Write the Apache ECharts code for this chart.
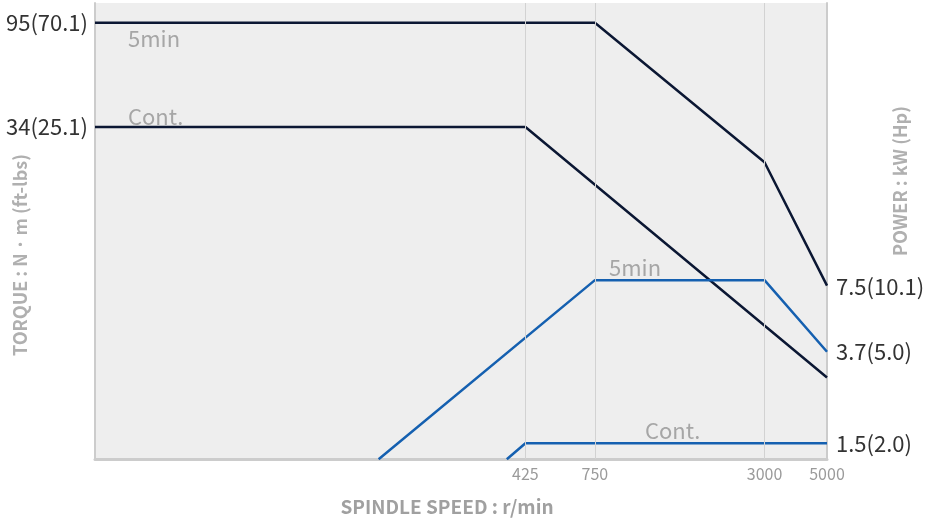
<!DOCTYPE html>
<html>
<head>
<meta charset="utf-8">
<script src="https://cdn.jsdelivr.net/npm/echarts@6/dist/echarts.min.js"></script>
<style>
  html, body { margin: 0; padding: 0; background: #ffffff; }
  #chart { width: 937px; height: 518px; }
</style>
</head>
<body>
<div id="chart"></div>
<script>
// spindle speed (r/min) / torque (N·m) / power (kW)
const speedTicks = [425, 750, 3000, 5000];
const speedGrid = [425, 750, 3000];

const torque5min = [[12.6, 95], [750, 95], [3000, 24], [5000, 7.1]];
const torqueCont = [[12.6, 34], [425, 34], [5000, 2.87]];
const power5min = [[128, 1.28], [750, 7.5], [3000, 7.5], [5000, 3.7]];
const powerCont = [[365, 1.28], [425, 1.5], [5000, 1.5]];

const leftTickValues = [95, 34];
const leftTickLabels = ["95(70.1)", "34(25.1)"];
const rightTickValues = [7.05, 3.7, 1.5];
const rightTickLabels = ["7.5(10.1)", "3.7(5.0)", "1.5(2.0)"];

const xMin = 12.6, xMax = 5000;
const yMin = 1.284, yMax = 115.5;

const navy = "#0b1733";
const blue = "#1560b0";
const grey = "#a6a6a6";
const font = "'Noto Sans CJK SC'";

const chart = echarts.init(document.getElementById("chart"));

function tickFormatter(values, labels) {
  return function (v) {
    for (let i = 0; i < values.length; i++) {
      if (Math.abs(v - values[i]) < 1e-6 * values[i]) return labels[i];
    }
    return "";
  };
}

const option = {
  animation: false,
  grid: {
    left: 95, right: 110, top: 3, bottom: 59,
    show: true, backgroundColor: "#eeeeee", borderWidth: 0
  },
  xAxis: {
    type: "log", logBase: 10, min: xMin, max: xMax,
    axisLine: { show: true, lineStyle: { color: "#cccccc", width: 3 } },
    axisTick: { show: false },
    splitLine: { show: false },
    axisLabel: {
      customValues: speedTicks,
      color: "#9a9a9a", fontSize: 16, fontFamily: font, margin: 7,
      formatter: (v) => String(Math.round(v))
    }
  },
  yAxis: [
    {
      type: "log", logBase: 10, min: yMin, max: yMax, position: "left",
      axisLine: { show: true, lineStyle: { color: "#cccccc", width: 2 } },
      axisTick: { show: false },
      splitLine: { show: false },
      axisLabel: {
        customValues: leftTickValues,
        color: "#333333", fontSize: 22, fontFamily: font, margin: 7,
        formatter: tickFormatter(leftTickValues, leftTickLabels)
      }
    },
    {
      type: "log", logBase: 10, min: yMin, max: yMax, position: "right",
      axisLine: { show: true, lineStyle: { color: "#cccccc", width: 2 } },
      axisTick: { show: false },
      splitLine: { show: false },
      axisLabel: {
        customValues: rightTickValues,
        color: "#333333", fontSize: 22, fontFamily: font, margin: 9,
        formatter: tickFormatter(rightTickValues, rightTickLabels)
      }
    }
  ],
  graphic: [
    { type: "text", left: 128, top: 28, style: { text: "5min", fill: grey, font: "22px " + font } },
    { type: "text", left: 128, top: 106, style: { text: "Cont.", fill: grey, font: "22px " + font } },
    { type: "text", left: 609, top: 257, style: { text: "5min", fill: grey, font: "22px " + font } },
    { type: "text", left: 645, top: 420, style: { text: "Cont.", fill: grey, font: "22px " + font } },
    {
      type: "text", x: 20, y: 255, rotation: Math.PI / 2,
      style: { text: "TORQUE : N\u2009\u00b7\u2009m (ft-lbs)", fill: "#b0b0b0", font: "bold 18px 'Noto Sans CJK KR', " + font, align: "center", verticalAlign: "middle" }
    },
    {
      type: "text", x: 900, y: 181, rotation: Math.PI / 2,
      style: { text: "POWER : kW (Hp)", fill: "#b0b0b0", font: "bold 18px " + font, align: "center", verticalAlign: "middle" }
    },
    {
      type: "text", x: 447, y: 507,
      style: { text: "SPINDLE SPEED : r/min", fill: "#a0a0a0", font: "bold 19px " + font, align: "center", verticalAlign: "middle" }
    }
  ],
  series: [
    {
      name: "grid", type: "line", data: [], silent: true,
      markLine: {
        silent: true, symbol: "none", label: { show: false },
        lineStyle: { color: "#d2d2d2", width: 1, type: "solid" },
        data: speedGrid.map((v) => ({ xAxis: v }))
      }
    },
    { name: "5min torque", type: "line", data: torque5min, showSymbol: false, lineStyle: { color: navy, width: 2.5 } },
    { name: "Cont. torque", type: "line", data: torqueCont, showSymbol: false, lineStyle: { color: navy, width: 2.5 } },
    { name: "5min power", type: "line", data: power5min, showSymbol: false, lineStyle: { color: blue, width: 2.5 } },
    { name: "Cont. power", type: "line", data: powerCont, showSymbol: false, lineStyle: { color: blue, width: 2.5 } }
  ]
};

chart.setOption(option);
window.addEventListener("resize", () => chart.resize());
</script>
</body>
</html>
